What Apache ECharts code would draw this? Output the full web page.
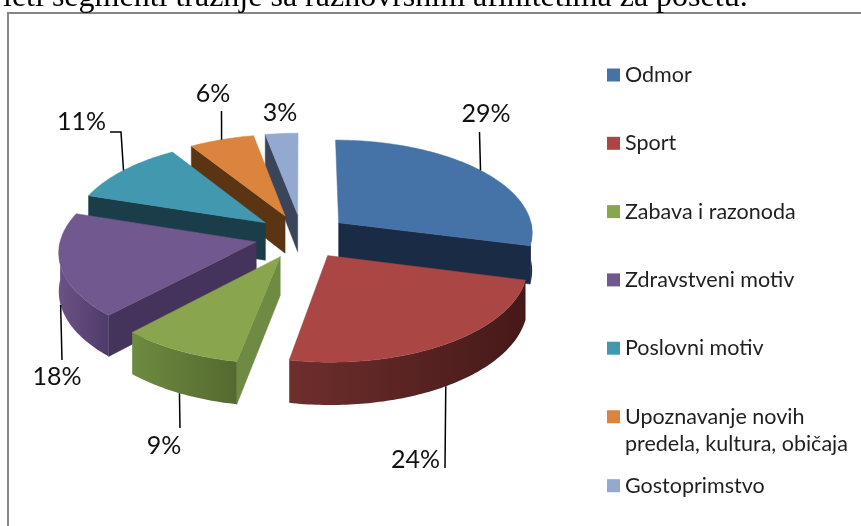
<!DOCTYPE html>
<html>
<head>
<meta charset="utf-8">
<title>Motivi</title>
<script src="https://cdn.jsdelivr.net/npm/echarts@6/dist/echarts.min.js"></script>
<style>
  html, body { margin: 0; padding: 0; background: #fff; }
  #chart { width: 861px; height: 526px; }
</style>
</head>
<body>
<div id="chart"></div>
<script>
// data
const categories = ["Odmor", "Sport", "Zabava i razonoda", "Zdravstveni motiv", "Poslovni motiv", "Upoznavanje novih\npredela, kultura, običaja", "Gostoprimstvo"];
const shares = [29, 24, 9, 18, 11, 6, 3];
const topText = "leti segmenti tražnje sa raznovrsnim afinitetima za posetu.";

// colours of each slice: top face, cut face, outer wall left -> right
const topColors = ["#4572A7", "#AA4643", "#89A54E", "#71588F", "#4198AF", "#DB843D", "#93A9CF"];
const cutColors = ["#1A2C45", "#4A1C1A", "#6F8A42", "#44335A", "#1A3D49", "#5B3414", "#3A4559"];
const wallLeft = ["#1A2C45", "#6E2F2D", "#6E8B40", "#6C5286", "#1A3D49", "#5B3414", "#3A4559"];
const wallRight = ["#1A2C45", "#451918", "#54692F", "#4E3B69", "#1A3D49", "#5B3414", "#3A4559"];

// where the % labels and the end of their leader lines go
const labelSpots = [[486, 114, "center"], [440, 460, "right"], [164, 446, "center"], [57, 377, "center"], [106, 122, "right"], [213, 94, "center"], [280, 113, "center"]];
const leaderBends = [[[479.5, 132]], [[445, 468]], [[180, 428]], [[62, 360]], [[121, 132], [110, 132]], [[221.5, 111]], []];

// pie geometry (tilted plane seen in light perspective)
const cx = 302, cy = 236.3;
const radius = 195, explode = 47, thick = 38;
const tilt = 0.476, persp = 0.00048;
const rad = Math.PI / 180;

const total = shares.reduce((a, b) => a + b, 0);
const starts = [];
shares.reduce((acc, v, i) => { starts[i] = acc; return acc + v; }, 0);

function project(u, v, drop) {
  const s = 1 / (1 - persp * v);
  return [cx + s * u, cy + s * tilt * v + s * (drop || 0)];
}

// point on a slice; deg clockwise from top, r distance from the slice apex
function slicePoint(i, deg, r, drop) {
  const mid = (starts[i] + shares[i] / 2) / total * 360 * rad;
  const a = deg * rad;
  const u = explode * Math.sin(mid) + r * Math.sin(a);
  const v = -explode * Math.cos(mid) - r * Math.cos(a);
  return project(u, v, drop);
}

function arc(i, from, to, drop) {
  const pts = [];
  const n = Math.max(2, Math.ceil(Math.abs(to - from)));
  for (let k = 0; k <= n; k++) {
    pts.push(slicePoint(i, from + (to - from) * k / n, radius, drop));
  }
  return pts;
}

function sliceItem(i) {
  return function (params, api) {
    const value = api.value(0);
    const a0 = starts[i] / total * 360;
    const a1 = a0 + value / total * 360;
    const mid = (a0 + a1) / 2;
    const children = [];
    const cutFace = function (deg) {
      const apex = slicePoint(i, deg, 0);
      const edge = slicePoint(i, deg, radius);
      children.push({
        type: "polygon",
        shape: { points: [apex, edge, slicePoint(i, deg, radius, thick), slicePoint(i, deg, 0, thick)] },
        style: { fill: cutColors[i], stroke: cutColors[i], lineWidth: 0.5 }
      });
    };
    if (Math.sin(a0 * rad) < 0) cutFace(a0);
    if (Math.sin(a1 * rad) > 0) cutFace(a1);

    // outer wall only where it faces the viewer
    const w0 = Math.max(a0, 90), w1 = Math.min(a1, 270);
    if (w1 > w0) {
      children.push({
        type: "polygon",
        shape: { points: arc(i, w0, w1, 0).concat(arc(i, w1, w0, thick)) },
        style: {
          stroke: null,
          fill: new echarts.graphic.LinearGradient(0, 0, 1, 0, [
            { offset: 0, color: wallLeft[i] },
            { offset: 1, color: wallRight[i] }
          ])
        }
      });
    }

    children.push({
      type: "polygon",
      shape: { points: [slicePoint(i, a0, 0)].concat(arc(i, a0, a1, 0)) },
      style: { fill: topColors[i], stroke: topColors[i], lineWidth: 0.5 }
    });

    // leader line, from the rim (or the wall bottom on the near side)
    if (leaderBends[i].length) {
      const near = Math.cos(mid * rad) < 0 || (mid > 180 && mid < 270);
      const anchor = slicePoint(i, mid, radius, near ? thick : 0);
      children.push({
        type: "polyline",
        shape: { points: [anchor].concat(leaderBends[i]) },
        style: { fill: null, stroke: "#000", lineWidth: 1.5 }
      });
    }

    const spot = labelSpots[i];
    children.push({
      type: "text",
      style: {
        x: spot[0], y: spot[1], text: value + "%",
        align: spot[2], verticalAlign: "middle",
        font: "25px Lato", fill: "#111"
      }
    });
    return { type: "group", children: children };
  };
}

// back slices first so nearer ones cover them
const depthOf = i => -Math.cos((starts[i] + shares[i] / 2) / total * 2 * Math.PI);
const rank = shares.map((_, i) => i).sort((a, b) => depthOf(a) - depthOf(b));

const legendBase = {
  left: 607, orient: "vertical", padding: 0, icon: "rect",
  itemWidth: 13, itemHeight: 13, itemGap: 44.3, selectedMode: false,
  textStyle: { fontFamily: "Lato", fontSize: 21.5, color: "#1f1f1f", lineHeight: 24 }
};

const chart = echarts.init(document.getElementById("chart"), null, { renderer: "canvas" });
chart.setOption({
  animation: false,
  backgroundColor: "#fff",
  tooltip: { show: false },
  legend: [
    Object.assign({}, legendBase, { top: 63, data: categories.slice(0, 5) }),
    // blank first line keeps the icon level with the first line of the wrapped name
    Object.assign({}, legendBase, {
      top: 375.5, data: [categories[5]], formatter: n => "\n" + n,
      textStyle: Object.assign({}, legendBase.textStyle, { lineHeight: 27.5 })
    }),
    Object.assign({}, legendBase, { top: 473.7, data: [categories[6]] })
  ],
  graphic: [
    {
      type: "polyline", z: 0,
      shape: { points: [[8, 526], [8, 13], [861, 13]] },
      style: { fill: null, stroke: "#868686", lineWidth: 2 }
    },
    {
      type: "text", z: 1, left: 3, top: -18,
      style: { text: topText, font: "32px 'Liberation Serif'", fill: "#000" }
    }
  ],
  series: categories.map((name, i) => ({
    type: "custom",
    name: name,
    coordinateSystem: "none",
    z: 2 + rank.indexOf(i),
    itemStyle: { color: topColors[i] },
    data: [[shares[i]]],
    renderItem: sliceItem(i),
    silent: true
  }))
});
</script>
</body>
</html>
